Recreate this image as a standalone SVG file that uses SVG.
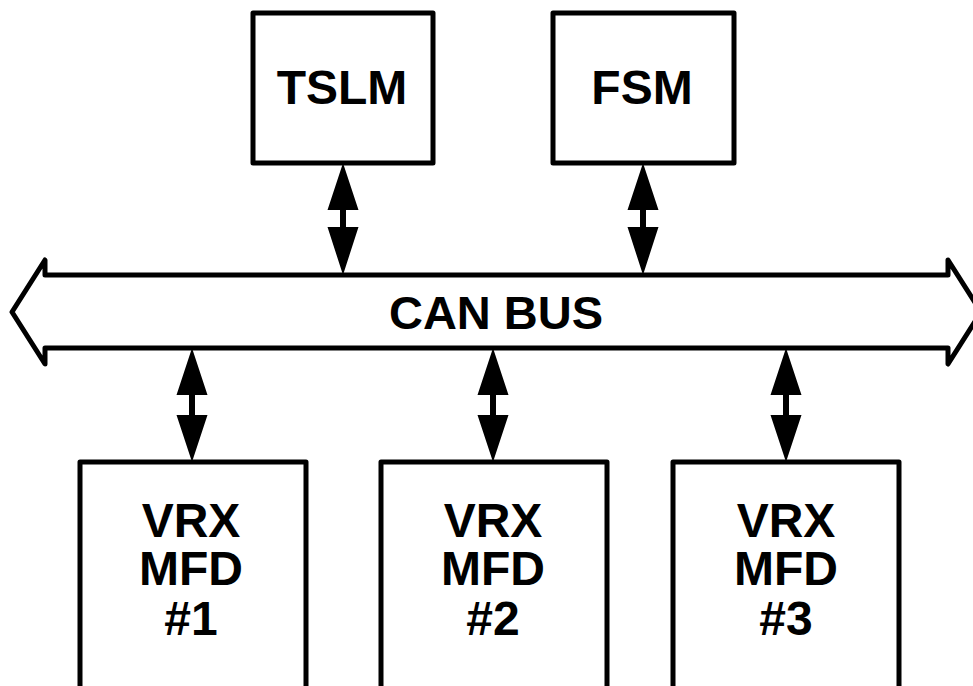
<svg xmlns="http://www.w3.org/2000/svg" width="973" height="686" viewBox="0 0 973 686">
  <style>
    .box { fill: #ffffff; stroke: #000000; stroke-width: 5; stroke-linejoin: round; }
    .bus { fill: #ffffff; stroke: #000000; stroke-width: 5; stroke-linejoin: round; }
    .link { fill: #000000; stroke: none; }
    .label { font-family: "Liberation Sans", Arial, sans-serif; font-weight: bold; font-size: 48px; fill: #000000; text-anchor: middle; }
    .bus-label { font-size: 47px; }
  </style>
  <rect width="973" height="686" fill="#ffffff"/>

  <!-- shared bus drawn as a wide double-headed arrow -->
  <g id="can-bus">
    <path class="bus" d="M12,312 L45,260 L45,275 L948,275 L948,260 L981,312 L948,364 L948,348 L45,348 L45,364 Z"/>
    <text class="label bus-label" x="496" y="329">CAN BUS</text>
  </g>

  <g id="tslm">
    <rect class="box" x="253" y="13" width="180" height="150"/>
    <text class="label" x="342" y="104">TSLM</text>
  </g>

  <g id="fsm">
    <rect class="box" x="553" y="13" width="181" height="150"/>
    <text class="label" x="642" y="104">FSM</text>
  </g>

  <g id="mfd1">
    <rect class="box" x="80" y="462" width="226" height="250"/>
    <text class="label" x="191" y="537">VRX</text>
    <text class="label" x="191" y="585">MFD</text>
    <text class="label" x="191" y="635">#1</text>
  </g>

  <g id="mfd2">
    <rect class="box" x="381" y="462" width="226" height="250"/>
    <text class="label" x="493" y="537">VRX</text>
    <text class="label" x="493" y="585">MFD</text>
    <text class="label" x="493" y="635">#2</text>
  </g>

  <g id="mfd3">
    <rect class="box" x="673" y="462" width="226" height="250"/>
    <text class="label" x="786" y="537">VRX</text>
    <text class="label" x="786" y="585">MFD</text>
    <text class="label" x="786" y="635">#3</text>
  </g>

  <!-- bidirectional links between modules and the bus -->
  <g id="connectors">
    <path class="link" d="M343,163 L358.5,210 L346,210 L346,227 L358.5,227 L343,275 L327.5,227 L340,227 L340,210 L327.5,210 Z"/>
    <path class="link" d="M643,163 L658.5,210 L646,210 L646,227 L658.5,227 L643,275 L627.5,227 L640,227 L640,210 L627.5,210 Z"/>
    <path class="link" d="M192,348 L207.5,395 L195,395 L195,415 L207.5,415 L192,462 L176.5,415 L189,415 L189,395 L176.5,395 Z"/>
    <path class="link" d="M493,348 L508.5,395 L496,395 L496,415 L508.5,415 L493,462 L477.5,415 L490,415 L490,395 L477.5,395 Z"/>
    <path class="link" d="M786,348 L801.5,395 L789,395 L789,415 L801.5,415 L786,462 L770.5,415 L783,415 L783,395 L770.5,395 Z"/>
  </g>
</svg>
